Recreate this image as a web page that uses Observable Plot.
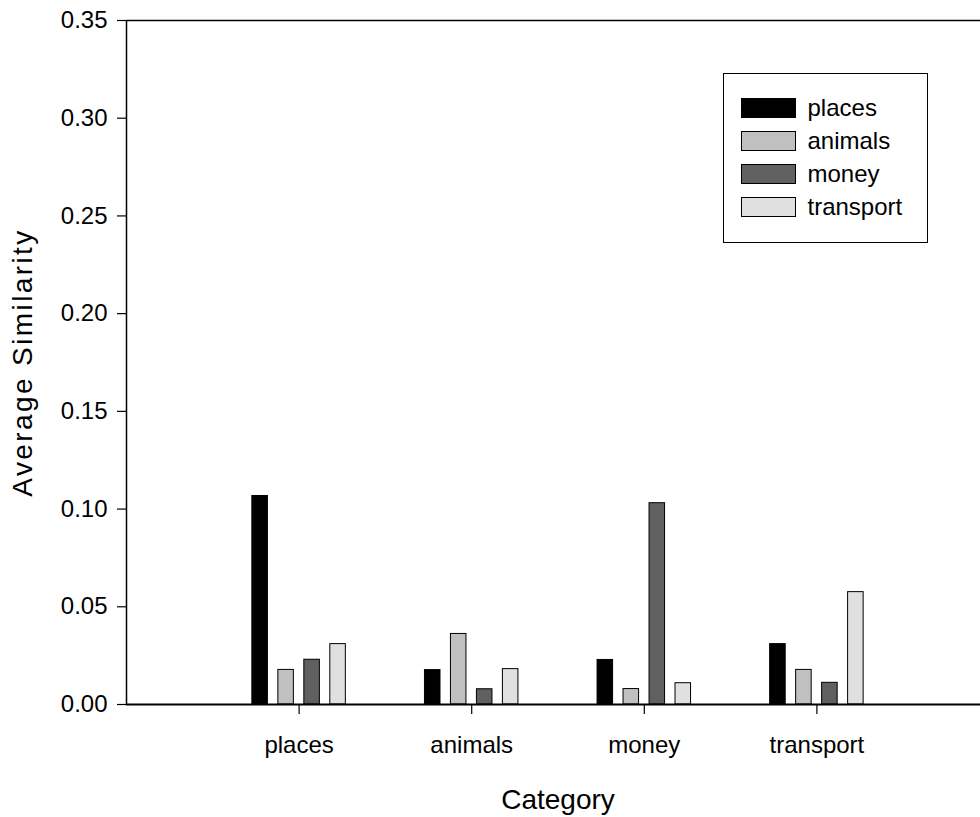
<!DOCTYPE html>
<html>
<head>
<meta charset="utf-8">
<script src="https://cdn.jsdelivr.net/npm/d3@7"></script>
<script src="https://cdn.jsdelivr.net/npm/@observablehq/plot@0.6"></script>
<style>
  html, body { margin: 0; padding: 0; background: #fff; overflow: hidden; }
  #wrap { position: relative; width: 980px; height: 817px; overflow: hidden; font-family: "Liberation Sans", Arial, sans-serif; }
  #chart svg { display: block; max-width: none !important; }
  #legend { position: absolute; left: 723px; top: 73px; width: 205px; height: 170px; box-sizing: border-box; border: 1.5px solid #000; background: #fff; }
  .row { position: absolute; left: 16.5px; height: 20px; display: flex; align-items: center; }
  .sw { width: 55px; height: 20px; box-sizing: border-box; border: 1px solid #000; }
  .lab { margin-left: 12px; font-size: 24px; line-height: 20px; color: #000; }
  g[aria-label="y-axis label"] text { font-size: 28px; letter-spacing: 2.4px; }
  g[aria-label="x-axis label"] text { font-size: 28px; }
</style>
</head>
<body>
<div id="wrap">
  <div id="chart"></div>
  <div id="legend"></div>
</div>
<script>
// Categories on the x axis
const categories = ["places", "animals", "money", "transport"];
// Series (bars within each category)
const seriesNames = ["places", "animals", "money", "transport"];
// Values per series, in category order
const placesValues    = [0.1067, 0.0176, 0.0228, 0.0309];
const animalsValues   = [0.0177, 0.0361, 0.0079, 0.0177];
const moneyValues     = [0.0229, 0.0078, 0.1030, 0.0111];
const transportValues = [0.0309, 0.0181, 0.0109, 0.0575];
// Y tick values
const yTicks = [0, 0.05, 0.10, 0.15, 0.20, 0.25, 0.30, 0.35];
// Series colours
const seriesColors = ["#000000", "#c0c0c0", "#606060", "#e0e0e0"];

const seriesValues = [placesValues, animalsValues, moneyValues, transportValues];
const data = [];
seriesValues.forEach((vals, s) => {
  vals.forEach((v, c) => {
    data.push({ category: categories[c], pos: c + 1, s, series: seriesNames[s], value: v });
  });
});

const offsets = [-0.2258, -0.0753, 0.0753, 0.2258];
const bw = 0.09;

const chart = Plot.plot({
  width: 989,
  height: 817,
  marginLeft: 126,
  marginRight: 0,
  marginTop: 20,
  marginBottom: 113,
  style: { fontFamily: "'Liberation Sans', Arial, sans-serif", color: "#000", background: "#fff", maxWidth: "none" },
  x: { domain: [0, 5] },
  y: { domain: [0, 0.35] },
  color: { domain: seriesNames, range: seriesColors },
  marks: [
    Plot.rectY(data, {
      x1: d => d.pos + offsets[d.s] - bw / 2,
      x2: d => d.pos + offsets[d.s] + bw / 2,
      y: "value",
      fill: "series",
      stroke: "#000",
      strokeWidth: 1
    }),
    Plot.ruleY([0.35], { stroke: "#000", strokeWidth: 1.5 }),
    Plot.ruleX([0], { stroke: "#000", strokeWidth: 1.5 }),
    Plot.ruleY([0], { stroke: "#000", strokeWidth: 2 }),
    Plot.axisY({
      ticks: yTicks,
      tickFormat: d => d.toFixed(2),
      tickSize: 9,
      tickPadding: 10,
      fontSize: 24,
      stroke: "#000",
      strokeWidth: 1.2,
      label: "Average Similarity",
      labelAnchor: "center",
      labelArrow: false,
      labelOffset: 114
    }),
    Plot.axisX({
      ticks: [1, 2, 3, 4],
      tickFormat: i => categories[i - 1],
      tickSize: 10,
      tickPadding: 21,
      fontSize: 24,
      stroke: "#000",
      strokeWidth: 1.2,
      label: "Category",
      labelAnchor: "center",
      labelArrow: false,
      labelOffset: 104
    })
  ]
});
document.getElementById("chart").appendChild(chart);

// Legend
const legend = document.getElementById("legend");
const rowTops = [23.5, 56.5, 89.5, 123];
seriesNames.forEach((name, i) => {
  const row = document.createElement("div");
  row.className = "row";
  row.style.top = rowTops[i] + "px";
  const sw = document.createElement("div");
  sw.className = "sw";
  sw.style.background = seriesColors[i];
  const lab = document.createElement("span");
  lab.className = "lab";
  lab.textContent = name;
  row.appendChild(sw);
  row.appendChild(lab);
  legend.appendChild(row);
});
</script>
</body>
</html>
